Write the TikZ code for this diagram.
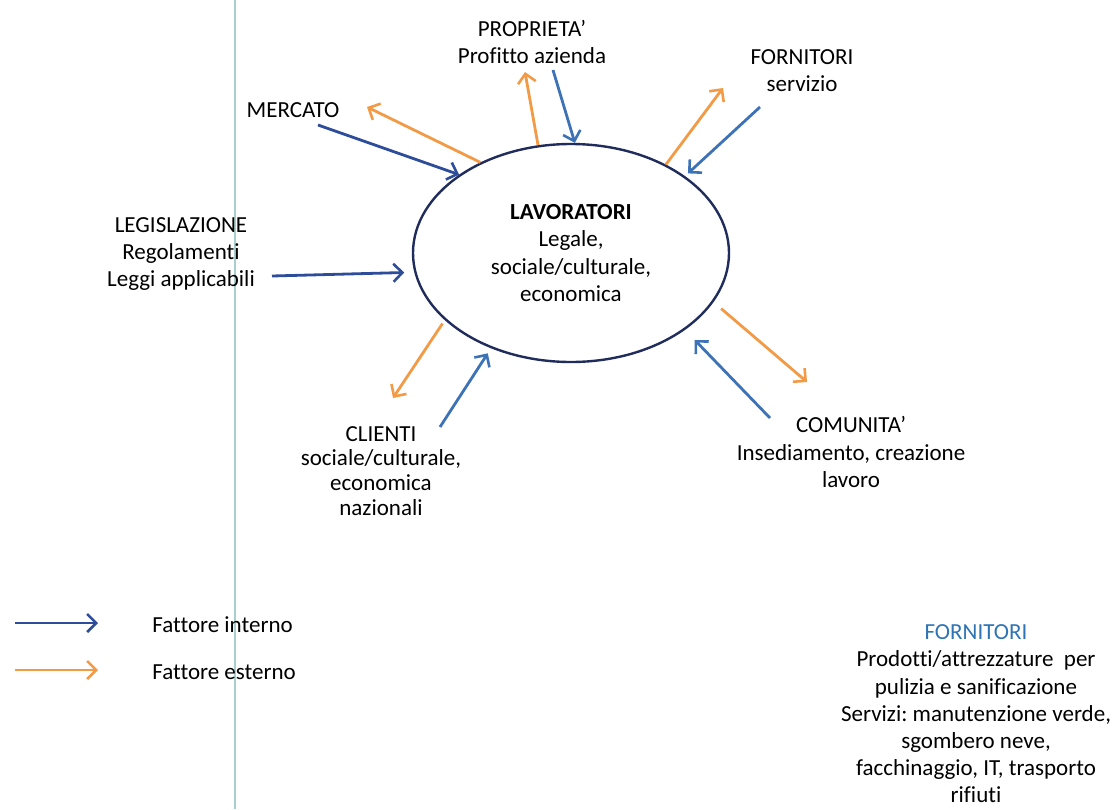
\documentclass[tikz,border=0pt]{standalone}
\usepackage{fontspec}
\setmainfont[Ligatures={NoCommon}]{Carlito}
\usetikzlibrary{shapes.geometric,arrows.meta}
\frenchspacing

\definecolor{intblue}{HTML}{3D72B6}
\definecolor{intdark}{HTML}{2D4C9A}
\definecolor{extorange}{HTML}{F29A45}
\definecolor{ellblue}{HTML}{1F2C5C}
\definecolor{scanline}{HTML}{A8CFCB}
\definecolor{titleblue}{HTML}{2E74B5}

\tikzset{
	lbl/.style={align=center,inner sep=0pt,font=\fontsize{11.5}{13.6}\selectfont},
	tipbarb/.style={-{Straight Barb[length=4.5pt,width=9pt,line width=1.3pt]}},
	intarrow/.style={intblue,line width=1.4pt,tipbarb},
	intdarkarrow/.style={intdark,line width=1.4pt,tipbarb},
	extarrow/.style={extorange,line width=1.4pt,tipbarb}
}

\begin{document}
\begin{tikzpicture}[x={(0.5pt,0)},y={(0,-0.5pt)}]
	\useasboundingbox (0,0) rectangle (1114,809);
	% scanned margin line
	\draw[scanline,line width=0.6pt] (235,0) -- (235,809);
	% centre
	\node[ellipse,draw=ellblue,line width=1.2pt,minimum width=158pt,minimum height=109pt,lbl] (lav) at (571,253) {\textbf{LAVORATORI}\\Legale,\\sociale/culturale,\\economica};
	% labels round the centre
	\node[lbl] (prop) at (532,42) {PROPRIETA'\\Profitto azienda};
	\node[lbl] (merc) at (293,110) {MERCATO};
	\node[lbl] (forn) at (802,71) {FORNITORI\\servizio};
	\node[lbl] (legis) at (181,254) {LEGISLAZIONE\\Regolamenti\\Leggi applicabili};
	\node[lbl,font=\fontsize{11.5}{12.4}\selectfont] (clienti) at (381,471) {CLIENTI\\sociale/culturale,\\economica\\nazionali};
	\node[lbl] (comun) at (851,452) {COMUNITA'\\Insediamento, creazione\\lavoro};
	% free ends of the arrows
	\coordinate (mercin) at (318,125);
	\coordinate (mercout) at (367,107);
	\coordinate (propout) at (525,72);
	\coordinate (propin) at (553,70);
	\coordinate (fornout) at (723,88);
	\coordinate (fornin) at (760,107);
	\coordinate (legisin) at (272,276);
	\coordinate (cliout) at (393,398);
	\coordinate (cliin) at (440,427);
	\coordinate (comout) at (807,382);
	\coordinate (comin) at (770,418);
	% draw arrows
	\draw[intdarkarrow] (mercin) -- (lav.145.4);
	\draw[extarrow] (lav.135.6) -- (mercout);
	\draw[extarrow] (lav.107.7) -- (propout);
	\draw[intarrow] (propin) -- (lav.88.5);
	\draw[extarrow] (lav.43.2) -- (fornout);
	\draw[intarrow,shorten >=2pt] (fornin) -- (lav.34.1);
	\draw[intdarkarrow,shorten >=5pt] (legisin) -- (lav.187.8);
	\draw[extarrow,shorten <=2pt] (lav.208.3) -- (cliout);
	\draw[intarrow,shorten >=3pt] (cliin) -- (lav.230.3);
	\draw[extarrow,shorten <=5pt] (lav.341.1) -- (comout);
	\draw[intarrow,shorten >=7pt] (comin) -- (lav.326.1);
	% draw legend
	\coordinate (legia) at (15,623);
	\coordinate (legib) at (98,623);
	\coordinate (legea) at (15,670);
	\coordinate (legeb) at (98,670);
	\draw[intdarkarrow] (legia) -- (legib);
	\draw[extarrow] (legea) -- (legeb);
	\node[lbl,anchor=base west] (legint) at (152,632) {Fattore interno};
	\node[lbl,anchor=base west] (legext) at (152,679) {Fattore esterno};
	% suppliers note
	\node[lbl] (fornnote) at (976,714) {\textcolor{titleblue}{FORNITORI}\\Prodotti/attrezzature\ \ per\\pulizia e sanificazione\\Servizi: manutenzione verde,\\sgombero neve,\\facchinaggio, IT, trasporto\\rifiuti};
\end{tikzpicture}
\end{document}
